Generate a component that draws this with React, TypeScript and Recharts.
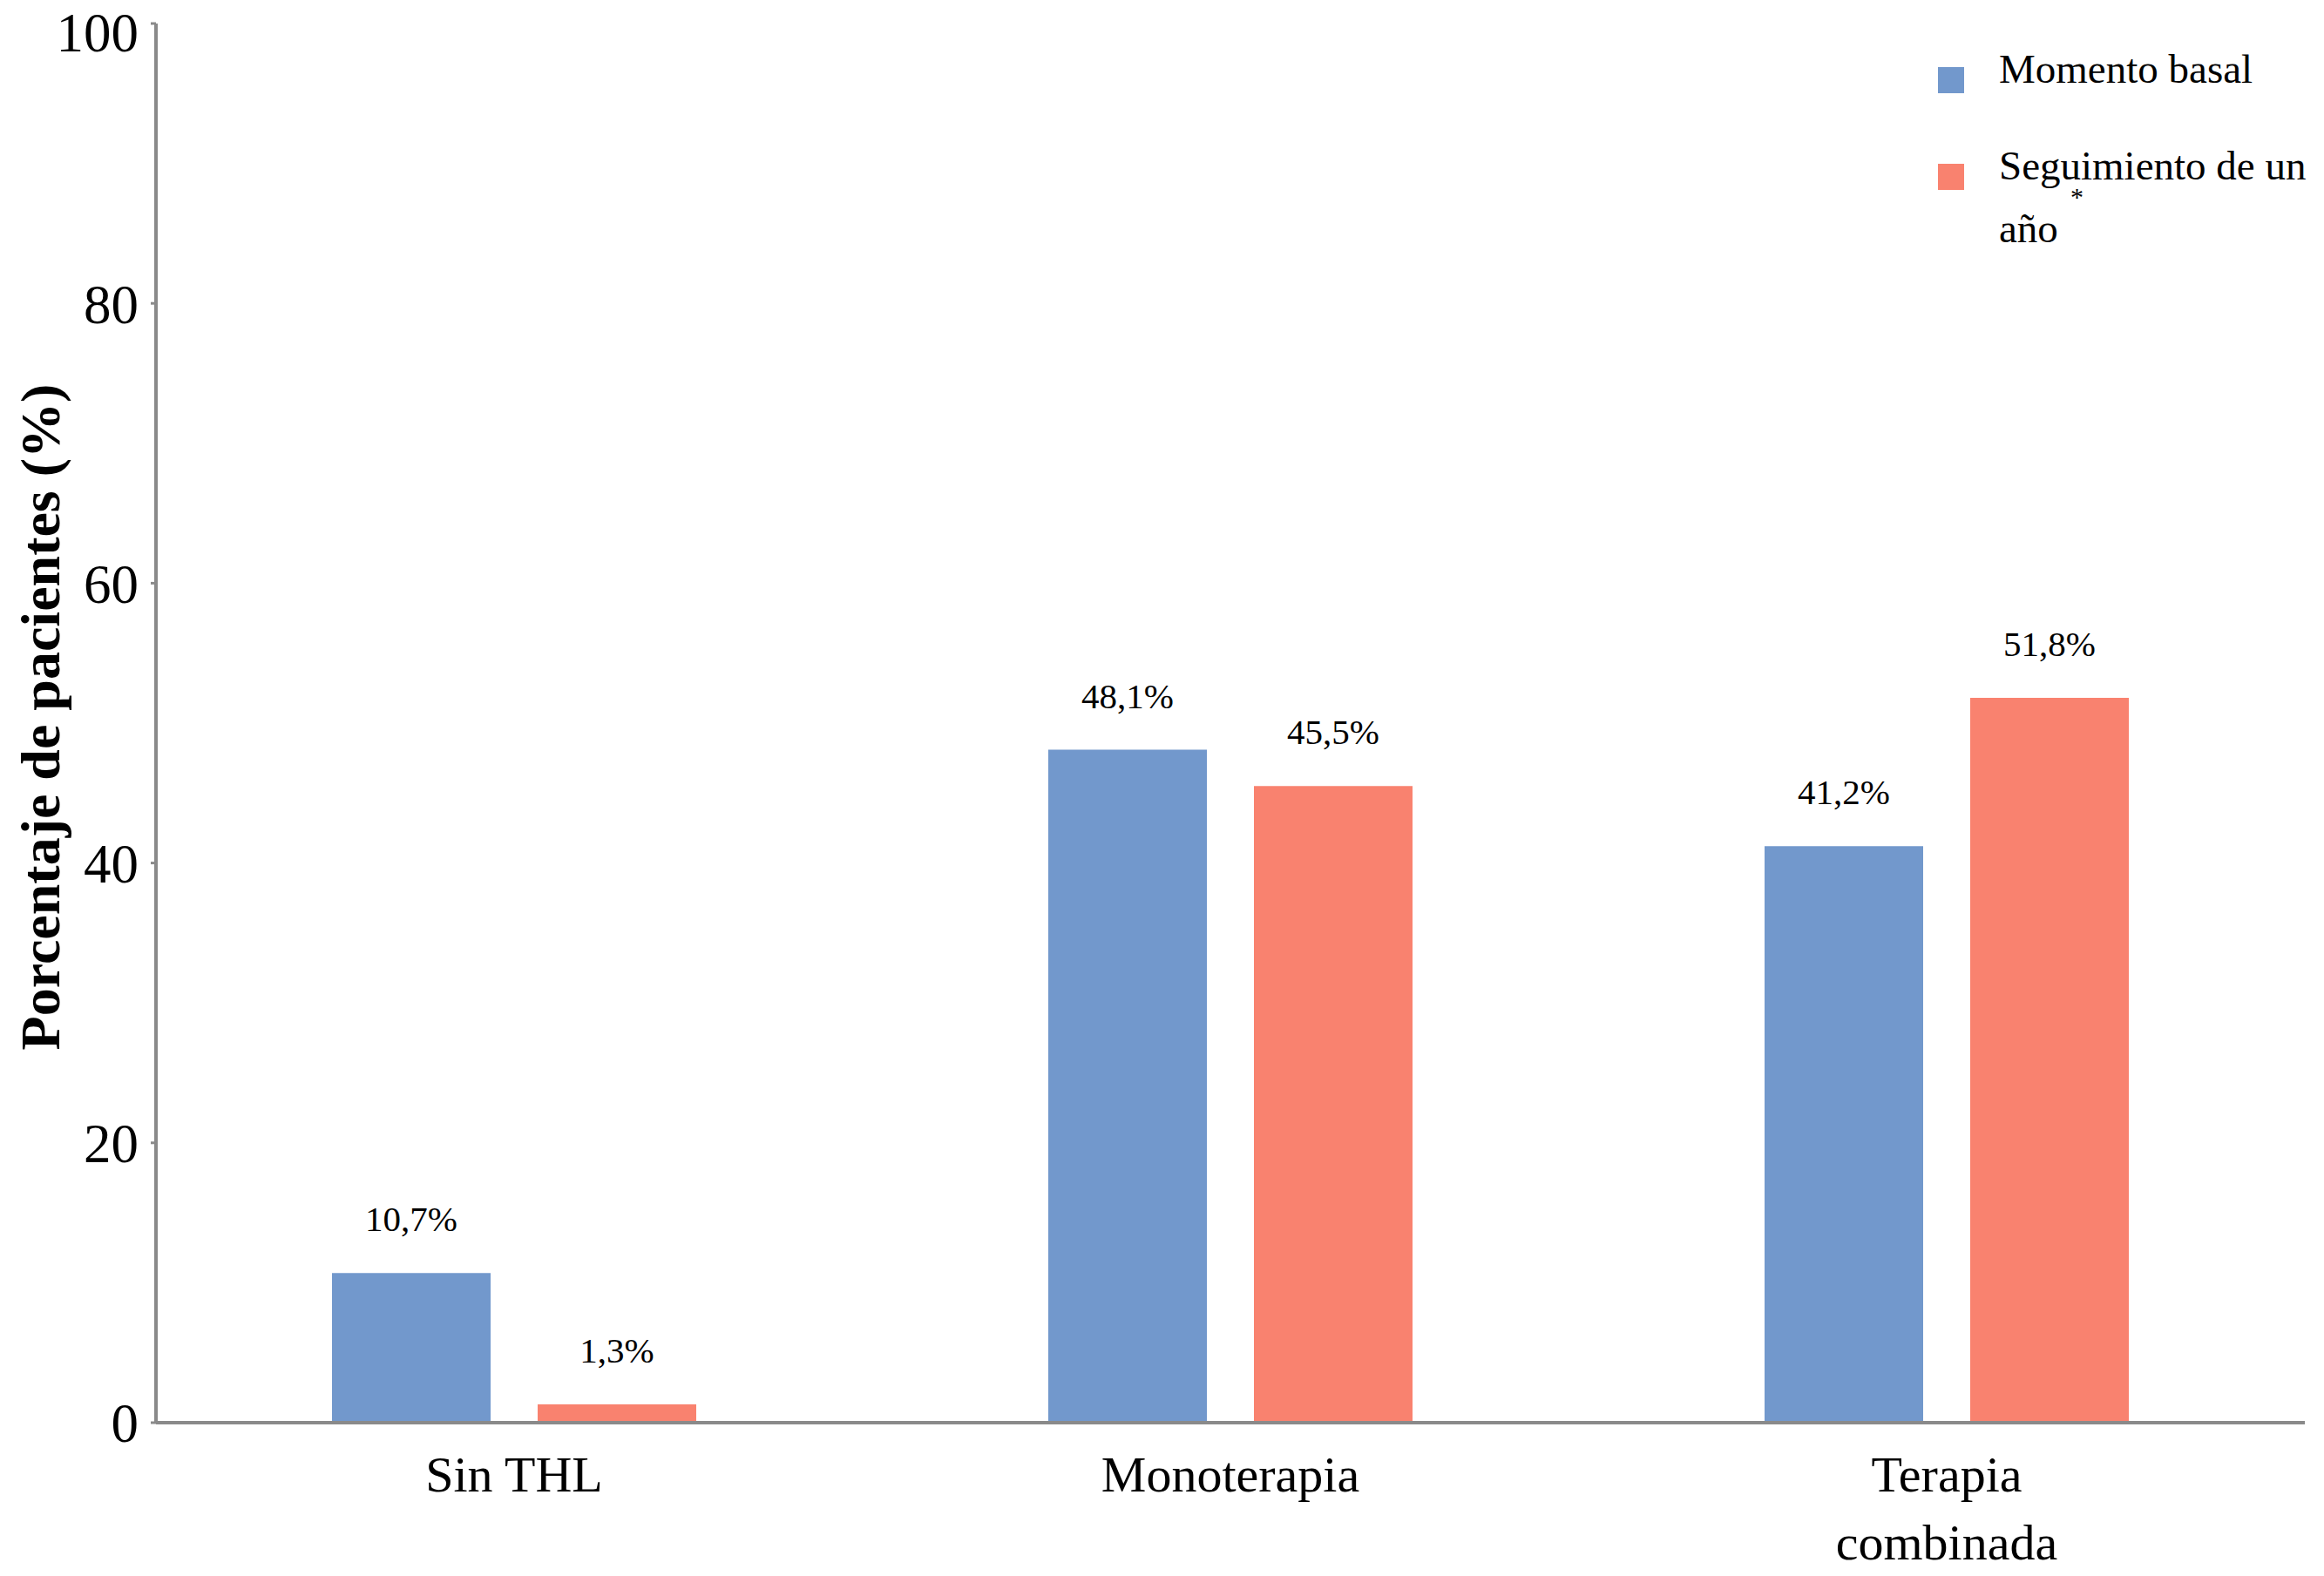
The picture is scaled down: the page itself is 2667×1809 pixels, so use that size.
import { BarChart, Bar, XAxis, YAxis, Legend, LabelList } from 'recharts'

const categories = ['Sin THL', 'Monoterapia', 'Terapia combinada']
const basal = [10.7, 48.1, 41.2]
const seguimiento = [1.3, 45.5, 51.8]
const yTicks = [0, 20, 40, 60, 80, 100]

const BLUE = '#7298CC'
const RED = '#F9826F'
const AXIS = '#8a8a8a'
const SERIF = '"Liberation Serif", "Times New Roman", serif'

const data = categories.map((cat, i) => ({ cat, basal: basal[i], seg: seguimiento[i] }))

const fmtPct = (v: number) => v.toFixed(1).replace('.', ',') + '%'

function CatTick({ x, y, payload }: { x?: number; y?: number; payload?: { value: string } }) {
  const text = payload?.value ?? ''
  const lines = text.length > 12 ? text.split(' ') : [text]
  return (
    <text x={x} y={y} textAnchor="middle" fontFamily={SERIF} fontSize={58} fill="#000">
      {lines.map((l, i) => (
        <tspan key={i} x={x} dy={i === 0 ? 79 : 78}>{l}</tspan>
      ))}
    </text>
  )
}

function YTitle(props: { viewBox?: { x: number; y: number; width: number; height: number } }) {
  const vb = props.viewBox ?? { x: 0, y: 0, width: 0, height: 0 }
  const cx = vb.x + 46
  const cy = vb.y + vb.height / 2 - 7
  return (
    <text x={cx} y={cy} transform={`rotate(-90 ${cx} ${cy})`} textAnchor="middle" dominantBaseline="central"
      fontFamily={SERIF} fontSize={64} fontWeight="bold" fill="#000">
      Porcentaje de pacientes (%)
    </text>
  )
}

function LegendBox({ payload }: { payload?: Array<{ value: string; color: string }> }) {
  return (
    <div style={{ position: 'relative', width: 440, height: 260, fontFamily: SERIF, fontSize: 47, color: '#000' }}>
      {(payload ?? []).map((p, i) => (
        <div key={i} style={{ position: 'absolute', left: 0, top: i * 111, width: 440 }}>
          <span style={{ position: 'absolute', left: 0, top: 34, width: 30, height: 30, background: p.color }} />
          <div style={{ position: 'absolute', left: 70, top: 0, width: 370, lineHeight: '72px', whiteSpace: 'normal' }}>
            {p.value === 'Seguimiento de un año' ? (
              <>
                Seguimiento de un<br />año
                <span style={{ position: 'relative', top: -42, fontSize: 30, marginLeft: 14 }}>*</span>
              </>
            ) : p.value}
          </div>
        </div>
      ))}
    </div>
  )
}

export default function App() {
  return (
    <div style={{ position: 'absolute', left: 0, top: 0, width: 2667, height: 1809, background: '#fff' }}>
      <BarChart width={2667} height={1809} data={data} margin={{ top: 27, right: 22, bottom: 6, left: 0 }}
        barSize={182} barGap={54}>
        <XAxis dataKey="cat" axisLine={{ stroke: AXIS, strokeWidth: 4 }} tickLine={false} tickSize={0} tickMargin={0}
          interval={0} height={170} tick={<CatTick />} />
        <YAxis domain={[0, 100]} ticks={yTicks} width={179} axisLine={{ stroke: AXIS, strokeWidth: 4 }}
          tickLine={{ stroke: AXIS, strokeWidth: 3 }} tickSize={6} tickMargin={14}
          tick={{ fontFamily: SERIF, fontSize: 63, fill: '#000' }} label={(p: any) => <YTitle {...p} />} />
        <Legend layout="horizontal" verticalAlign="middle" align="center"
          wrapperStyle={{ left: 2224, top: 43, width: 440, height: 260 }}
          content={(p: any) => <LegendBox payload={p.payload} />} />
        <Bar dataKey="basal" name="Momento basal" fill={BLUE} isAnimationActive={false}>
          <LabelList dataKey="basal" position="top" offset={48} formatter={(v: any) => fmtPct(Number(v))}
            style={{ fontFamily: SERIF, fontSize: 41, fill: '#000' }} />
        </Bar>
        <Bar dataKey="seg" name="Seguimiento de un año" fill={RED} isAnimationActive={false}>
          <LabelList dataKey="seg" position="top" offset={48} formatter={(v: any) => fmtPct(Number(v))}
            style={{ fontFamily: SERIF, fontSize: 41, fill: '#000' }} />
        </Bar>
      </BarChart>
    </div>
  )
}
